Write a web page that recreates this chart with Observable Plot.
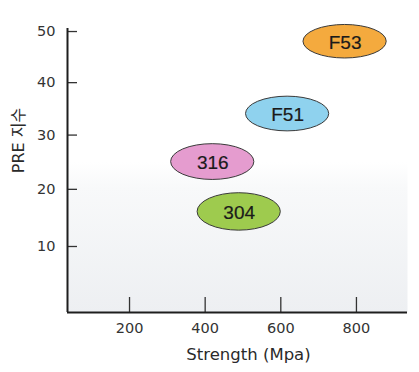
<!DOCTYPE html>
<html>
<head>
<meta charset="utf-8">
<script src="https://cdn.jsdelivr.net/npm/d3@7"></script>
<script src="https://cdn.jsdelivr.net/npm/@observablehq/plot@0.6"></script>
<style>
  html, body { margin: 0; padding: 0; background: #fff; }
  #chart { width: 419px; height: 372px; }
</style>
</head>
<body>
<div id="chart"></div>
<script>
// Data
const materials = ["F53", "F51", "316", "304"];
const strength = [770, 618, 420, 490];   // Strength (MPa), ellipse centres
const pre = [48, 34, 25, 16];            // PRE index, ellipse centres
const colors = ["#f4aa3e", "#8fd2ee", "#e59ccf", "#9ecb4e"];
const xTicks = [200, 400, 600, 800];
const yTicks = [10, 20, 30, 40, 50];
const xLabel = "Strength (Mpa)";
const yLabel = "PRE 지수";

const idx = materials.map((_, i) => i);
const halfW = 110;   // ellipse half-width in MPa
const halfH = 3.3;   // ellipse half-height in PRE units
const xMin = 36;

const svg = Plot.plot({
  width: 419,
  height: 372,
  marginLeft: 67,
  marginRight: 12,
  marginTop: 28,
  marginBottom: 60,
  style: { fontFamily: "'DejaVu Sans', sans-serif", background: "transparent", color: "#2a2a2a" },
  x: { domain: [xMin, 935] },
  y: { type: "pow", exponent: 0.9, domain: [0, 50.6] },
  color: { type: "identity" },
  marks: [
    Plot.frame({ fill: "url(#bgGrad)", stroke: null }),
    // inward ticks
    Plot.axisY(yTicks, { tickSize: 10, dx: 10, tickFormat: () => "", stroke: "#333", strokeWidth: 1.3, label: null }),
    Plot.axisX(xTicks, { tickSize: 15, dy: -15, tickFormat: () => "", stroke: "#333", strokeWidth: 1.3, label: null }),
    // tick labels
    Plot.axisY(yTicks, { tickSize: 0, tickPadding: 12, fontSize: 14.5, fill: "#333", label: null }),
    Plot.axisX(xTicks, { tickSize: 0, tickPadding: 10, fontSize: 14.5, fill: "#333", label: null }),
    // axis lines
    Plot.ruleX([xMin], { stroke: "#1e1e1e", strokeWidth: 2 }),
    Plot.ruleY([0], { stroke: "#1e1e1e", strokeWidth: 2 }),
    // ellipses (rect with full corner radii)
    Plot.rect(idx, {
      x1: i => strength[i] - halfW,
      x2: i => strength[i] + halfW,
      y1: i => pre[i] - halfH,
      y2: i => pre[i] + halfH,
      fill: i => colors[i],
      stroke: "#3a3a3a",
      strokeWidth: 1,
      rx: 200,
      ry: 200
    }),
    Plot.text(idx, {
      x: i => strength[i],
      y: i => pre[i],
      text: i => materials[i],
      fontSize: 19,
      fontFamily: "'Liberation Sans', Arial, sans-serif",
      fill: "#1a1a1a",
      stroke: "#1a1a1a",
      strokeWidth: 0.2,
      dy: 1
    }),
    // axis titles
    Plot.text([xLabel], {
      frameAnchor: "bottom",
      text: d => d,
      dx: 11,
      dy: 47,
      fontSize: 16.5,
      fill: "#2a2a2a"
    }),
    Plot.text([yLabel], {
      frameAnchor: "left",
      textAnchor: "middle",
      text: d => d,
      rotate: -90,
      dx: -49,
      dy: -30,
      fontSize: 16,
      fontFamily: "'DejaVu Sans', 'Noto Sans CJK KR', sans-serif",
      fill: "#2a2a2a"
    })
  ]
});

// gradient definition for the plot background
const ns = "http://www.w3.org/2000/svg";
const defs = document.createElementNS(ns, "defs");
const grad = document.createElementNS(ns, "linearGradient");
grad.setAttribute("id", "bgGrad");
grad.setAttribute("x1", "0"); grad.setAttribute("y1", "0");
grad.setAttribute("x2", "0"); grad.setAttribute("y2", "1");
[["0", "#ffffff"], ["0.47", "#ffffff"], ["0.56", "#f8f9fa"], ["1", "#edeff2"]].forEach(([o, c]) => {
  const s = document.createElementNS(ns, "stop");
  s.setAttribute("offset", o);
  s.setAttribute("stop-color", c);
  grad.appendChild(s);
});
defs.appendChild(grad);
svg.insertBefore(defs, svg.firstChild);

document.getElementById("chart").appendChild(svg);
</script>
</body>
</html>
